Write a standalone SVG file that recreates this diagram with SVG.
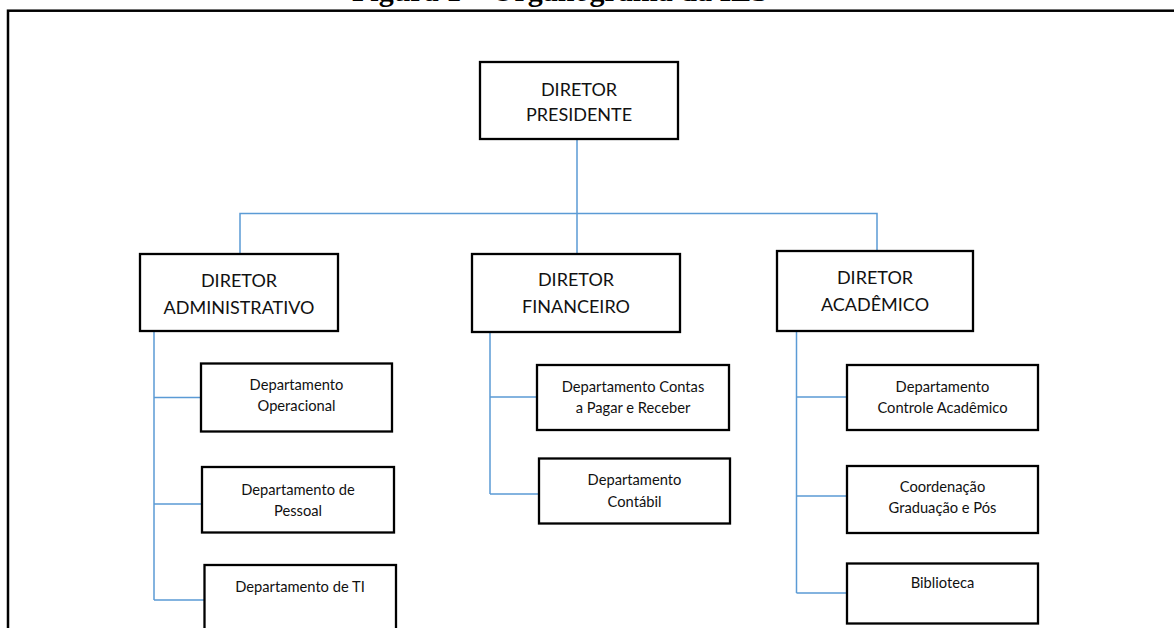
<svg xmlns="http://www.w3.org/2000/svg" width="1174" height="628" viewBox="0 0 1174 628">
<style>
.box{fill:#fff;stroke:#000;stroke-width:2.3}
.t{font-family:Lato,"Liberation Sans",sans-serif;font-size:18px;fill:#111;text-anchor:middle}
.s{font-family:Lato,"Liberation Sans",sans-serif;font-size:14.7px;fill:#111;text-anchor:middle}
.c{fill:none;stroke:#5B9BD5;stroke-width:1.5}
.title{font-family:"Liberation Serif",serif;font-weight:bold;font-size:30px;fill:#000}
</style>
<rect width="1174" height="628" fill="#fff"/>
<text class="title" x="352" y="0.5">Figura 1 – Organograma da IES</text>
<rect x="8" y="10.7" width="1200" height="700" fill="none" stroke="#000" stroke-width="2.5"/>
<g id="connectors">
<path class="c" d="M577 139V254M240 254V213.5H877V250"/>
<path class="c" d="M154 331V600M154 397.5H201M154 504H202M154 600H204"/>
<path class="c" d="M490 332V494M490 397H537M490 494H539"/>
<path class="c" d="M796.5 331V593M796.5 397H847M796.5 496H847M796.5 593H847"/>
</g>
<g id="presidente"><rect class="box" x="480" y="62" width="198" height="77"/><text class="t" x="579" y="95.5">DIRETOR</text><text class="t" x="579" y="121">PRESIDENTE</text></g>
<g id="administrativo"><rect class="box" x="140" y="254" width="198" height="77"/><text class="t" x="239" y="287">DIRETOR</text><text class="t" x="239" y="314">ADMINISTRATIVO</text></g>
<g id="financeiro"><rect class="box" x="472" y="254" width="208" height="78"/><text class="t" x="576" y="286">DIRETOR</text><text class="t" x="576" y="313">FINANCEIRO</text></g>
<g id="academico"><rect class="box" x="777" y="251" width="196" height="80"/><text class="t" x="875" y="284">DIRETOR</text><text class="t" x="875" y="311">ACADÊMICO</text></g>
<g id="operacional"><rect class="box" x="201" y="363.5" width="191" height="68"/><text class="s" x="296.5" y="390">Departamento</text><text class="s" x="296.5" y="411">Operacional</text></g>
<g id="pessoal"><rect class="box" x="202" y="467" width="192" height="65.5"/><text class="s" x="298" y="495">Departamento de</text><text class="s" x="298" y="516">Pessoal</text></g>
<g id="ti"><rect class="box" x="204.5" y="565" width="191.5" height="80"/><text class="s" x="300" y="592">Departamento de TI</text></g>
<g id="contas"><rect class="box" x="537" y="365" width="192" height="65"/><text class="s" x="633" y="392">Departamento Contas</text><text class="s" x="633" y="413">a Pagar e Receber</text></g>
<g id="contabil"><rect class="box" x="539" y="458.5" width="191" height="65"/><text class="s" x="634.5" y="485">Departamento</text><text class="s" x="634.5" y="507">Contábil</text></g>
<g id="controle"><rect class="box" x="847" y="365" width="191" height="65"/><text class="s" x="942.5" y="392">Departamento</text><text class="s" x="942.5" y="413">Controle Acadêmico</text></g>
<g id="coordenacao"><rect class="box" x="847" y="466" width="191" height="67"/><text class="s" x="942.5" y="492">Coordenação</text><text class="s" x="942.5" y="513">Graduação e Pós</text></g>
<g id="biblioteca"><rect class="box" x="847" y="563.5" width="191" height="60"/><text class="s" x="942.5" y="588">Biblioteca</text></g>
</svg>
